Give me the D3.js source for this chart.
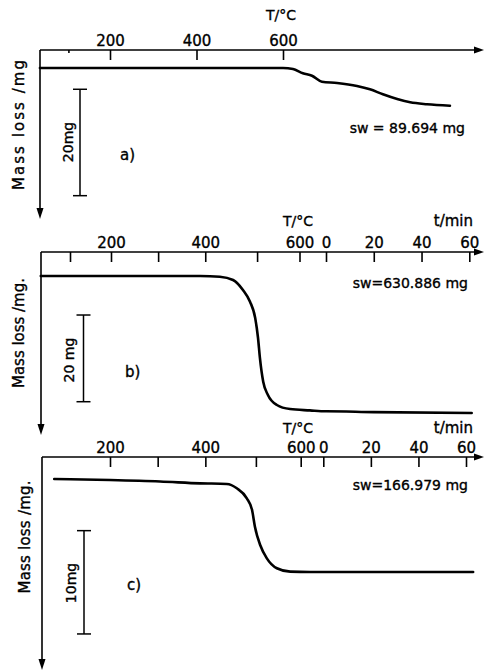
<!DOCTYPE html>
<html>
<head>
<meta charset="utf-8">
<script src="https://cdn.jsdelivr.net/npm/d3@7"></script>
<style>
  body { margin: 0; background: #fff; }
  svg { display: block; font-family: "DejaVu Sans", sans-serif; }
  svg text { stroke: #000; stroke-width: 0.35px; }
</style>
</head>
<body>
<div id="chart"></div>
<script>
// a) heating only, mass loss in mg vs T/°C
const tempA = [38, 200, 570, 600, 623, 646, 667, 690, 725, 771, 801, 831, 864, 894, 933, 986];
const lossA = [0, 0, 0, 0, 0.2, 1.0, 1.45, 2.58, 2.82, 3.38, 4.0, 4.94, 5.83, 6.45, 6.82, 7.09];

// b) heating, then isothermal
const tempB = [51, 389, 431, 459, 480, 495, 506, 512, 516, 523, 533, 552, 580, 622, 656];
const lossB = [0, 0, 0.16, 0.92, 3.23, 5.93, 9.69, 14.3, 18.9, 24.4, 27.45, 29.76, 30.7, 31.0, 31.2];
const timeB = [0, 20, 61];
const timeLossB = [31.2, 31.4, 31.6];

// c) heating, then isothermal
const tempC = [83, 200, 305, 389, 445, 466, 487, 498, 504, 515, 529, 550, 578, 620, 647];
const lossC = [0, 0.1, 0.24, 0.42, 0.48, 0.9, 1.87, 3.0, 4.62, 6.39, 7.68, 8.64, 8.97, 9.0, 9.0];
const timeC = [0, 63];
const timeLossC = [9.0, 9.0];

const tempTicksA = [200, 400, 600];
const tempTicksB = [113, 200, 300, 400, 510, 600];
const tempTicksC = [200, 300, 400, 506, 600];
const tempLabels = [200, 400, 600];
const timeTicks = [0, 20, 40, 60];
const sampleWeights = ["sw = 89.694 mg", "sw=630.886 mg", "sw=166.979 mg"];
const panelNames = ["a)", "b)", "c)"];
const yLabels = ["Mass loss /mg", "Mass loss /mg.", "Mass loss /mg."];
const barMg = [20, 20, 10];
const barLabels = ["20mg", "20 mg", "10mg"];

const W = 484, H = 672;

const panels = [
  { temp: tempA, loss: lossA, time: null, timeLoss: null, tTicks: tempTicksA, minor: [105],
    axisY: 50, left: 40, arrowY: 219, tDom: [200, 600], tRange: [110, 283], tmRange: null,
    base: 68, ppm: 5.32, barStart: 4, barX: 80,
    tLabel: [281, 20], tmLabel: null, sw: [465, 133], name: [120, 160], yl: [19, 125, 130], bl: [67.5, 142] },
  { temp: tempB, loss: lossB, time: timeB, timeLoss: timeLossB, tTicks: tempTicksB, minor: [],
    axisY: 252, left: 41, arrowY: 435, tDom: [200, 600], tRange: [111, 299.5], tmRange: [326, 469.3],
    base: 276, ppm: 4.335, barStart: 9, barX: 83.5,
    tLabel: [298, 226], tmLabel: [473, 226], sw: [468, 288], name: [125, 377], yl: [19, 333, 110], bl: [69, 360] },
  { temp: tempC, loss: lossC, time: timeC, timeLoss: timeLossC, tTicks: tempTicksC, minor: [],
    axisY: 457, left: 42, arrowY: 670, tDom: [200, 600], tRange: [110, 300.7], tmRange: [323.3, 466],
    base: 479, ppm: 10.33, barStart: 5, barX: 84,
    tLabel: [298, 433], tmLabel: [473, 433], sw: [468, 490], name: [127, 590], yl: [25, 537, 113], bl: [71, 583] },
];

const svg = d3.select("#chart").append("svg").attr("width", W).attr("height", H);

const line = d3.line().curve(d3.curveMonotoneX);

panels.forEach((p, i) => {
  const g = svg.append("g");
  const x = d3.scaleLinear().domain(p.tDom).range(p.tRange);
  const xt = p.tmRange ? d3.scaleLinear().domain([0, 60]).range(p.tmRange) : null;
  const y = d3.scaleLinear().domain([0, 10]).range([p.base, p.base + 10 * p.ppm]);

  // axes lines with arrowheads
  g.append("line").attr("x1", p.left).attr("x2", W - 8).attr("y1", p.axisY).attr("y2", p.axisY)
    .attr("stroke", "#000").attr("stroke-width", 1.6);
  g.append("path").attr("d", `M${W},${p.axisY} L${W - 10},${p.axisY - 3.5} L${W - 10},${p.axisY + 3.5}Z`).attr("fill", "#000");
  g.append("line").attr("x1", p.left).attr("x2", p.left).attr("y1", p.axisY).attr("y2", p.arrowY - 8)
    .attr("stroke", "#000").attr("stroke-width", 1.6);
  g.append("path").attr("d", `M${p.left},${p.arrowY} L${p.left - 3.5},${p.arrowY - 11} L${p.left + 3.5},${p.arrowY - 11}Z`).attr("fill", "#000");

  const fmtT = (d) => (tempLabels.includes(d) ? d : "");
  g.append("g").attr("transform", `translate(0,${p.axisY})`)
    .call(d3.axisTop(x).tickValues(p.tTicks).tickFormat(fmtT).tickSizeInner(-10).tickSizeOuter(0).tickPadding(4));
  if (xt) {
    g.append("g").attr("transform", `translate(0,${p.axisY})`)
      .call(d3.axisTop(xt).tickValues(timeTicks).tickSizeInner(-10).tickSizeOuter(0).tickPadding(4));
  }
  g.selectAll(".domain").remove();
  g.selectAll(".tick line").attr("stroke-width", 1.6);
  g.selectAll(".tick text").attr("font-size", 15).attr("font-family", "DejaVu Sans").attr("fill", "#000");

  // short minor ticks
  g.selectAll(".minor").data(p.minor).enter().append("line")
    .attr("x1", (d) => x(d)).attr("x2", (d) => x(d))
    .attr("y1", p.axisY).attr("y2", p.axisY + 3)
    .attr("stroke", "#000").attr("stroke-width", 1.6);

  // curve
  const pts = p.temp.map((t, k) => [x(t), y(p.loss[k])]);
  if (xt) p.time.forEach((t, k) => pts.push([xt(t), y(p.timeLoss[k])]));
  g.append("path").attr("d", line(pts)).attr("fill", "none").attr("stroke", "#000")
    .attr("stroke-width", 2.6).attr("stroke-linecap", "round");

  // scale bar
  const y0 = y(p.barStart), y1 = y(p.barStart + barMg[i]);
  g.append("line").attr("x1", p.barX).attr("x2", p.barX).attr("y1", y0).attr("y2", y1).attr("stroke", "#000").attr("stroke-width", 1.5);
  [y0, y1].forEach((yy) => {
    g.append("line").attr("x1", p.barX - 7).attr("x2", p.barX + 7).attr("y1", yy).attr("y2", yy).attr("stroke", "#000").attr("stroke-width", 1.5);
  });
  g.append("text").attr("transform", `translate(${p.bl[0]},${p.bl[1]}) rotate(-90)`)
    .attr("text-anchor", "middle").attr("dominant-baseline", "central").attr("font-size", 14).text(barLabels[i]);

  // labels
  g.append("text").attr("x", p.tLabel[0]).attr("y", p.tLabel[1]).attr("text-anchor", "middle").attr("font-size", 14).text("T/°C");
  if (p.tmLabel) {
    g.append("text").attr("x", p.tmLabel[0]).attr("y", p.tmLabel[1]).attr("text-anchor", "end").attr("font-size", 15).text("t/min");
  }
  g.append("text").attr("x", p.sw[0]).attr("y", p.sw[1]).attr("text-anchor", "end").attr("font-size", 14).text(sampleWeights[i]);
  g.append("text").attr("x", p.name[0]).attr("y", p.name[1]).attr("font-size", 15).text(panelNames[i]);
  g.append("text").attr("transform", `translate(${p.yl[0]},${p.yl[1]}) rotate(-90)`)
    .attr("text-anchor", "middle").attr("dominant-baseline", "central").attr("font-size", 15)
    .attr("textLength", p.yl[2]).attr("lengthAdjust", "spacing").text(yLabels[i]);
});
</script>
</body>
</html>
